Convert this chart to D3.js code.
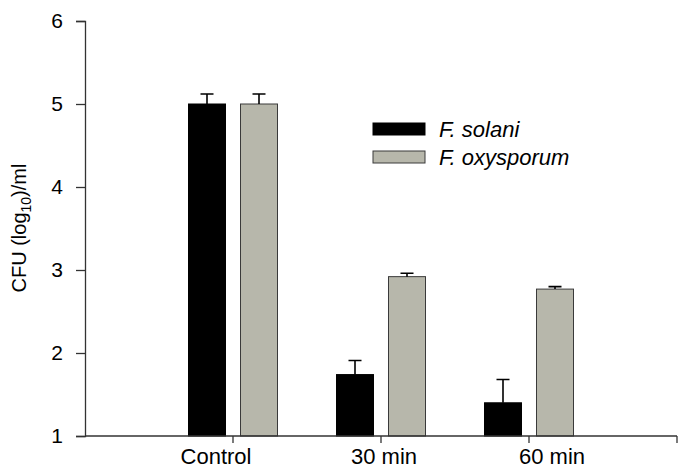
<!DOCTYPE html>
<html>
<head>
<meta charset="utf-8">
<script src="https://cdn.jsdelivr.net/npm/d3@7"></script>
<style>
  html, body { margin: 0; padding: 0; background: #fff; }
  svg { display: block; font-family: "Liberation Sans", Arial, sans-serif; }
</style>
</head>
<body>
<svg id="chart" width="685" height="474"></svg>
<script>
// ---- data ----
const categories = ["Control", "30 min", "60 min"];
const seriesNames = ["F. solani", "F. oxysporum"];
const solaniValues = [5.0, 1.74, 1.40];
const solaniErrors = [0.12, 0.17, 0.28];
const oxysporumValues = [5.0, 2.92, 2.77];
const oxysporumErrors = [0.12, 0.04, 0.03];
const yTicks = [1, 2, 3, 4, 5, 6];
const seriesColors = ["#000000", "#b7b7ab"];
const seriesStrokes = ["#000000", "#3a3a3a"];

const rows = categories.map((c, i) => ({
  cat: c,
  vals: [
    { s: 0, v: solaniValues[i], e: solaniErrors[i] },
    { s: 1, v: oxysporumValues[i], e: oxysporumErrors[i] }
  ]
}));

const svg = d3.select("#chart");
const axisX0 = 85, axisX1 = 677, y0 = 436, y1 = 21;
const step = (axisX1 - axisX0) / 4;

const y = d3.scaleLinear().domain([1, 6]).range([y0, y1]);
const x = d3.scaleBand().domain(categories)
  .range([axisX0 + step / 2, axisX1 - step / 2]).paddingInner(0).paddingOuter(0);
const xs = d3.scaleBand().domain([0, 1]).range([-44.5, 44.5]).paddingInner(15 / 52);
// category labels in the original are spaced independently of the ticks
const xLabel = d3.scalePoint().domain(categories).range([216, 552]);

const axisColor = "#333";

// bars
const g = svg.append("g");
const groups = g.selectAll("g.cat").data(rows).join("g")
  .attr("transform", d => `translate(${x(d.cat) + x.bandwidth() / 2},0)`);

groups.selectAll("rect").data(d => d.vals).join("rect")
  .attr("x", d => xs(d.s))
  .attr("width", xs.bandwidth())
  .attr("y", d => y(d.v))
  .attr("height", d => y0 - y(d.v))
  .attr("fill", d => seriesColors[d.s])
  .attr("stroke", d => seriesStrokes[d.s])
  .attr("stroke-width", 1);

// error bars (upper only)
groups.selectAll("path.err").data(d => d.vals).join("path")
  .attr("class", "err")
  .attr("d", d => {
    const cx = xs(d.s) + xs.bandwidth() / 2;
    const top = y(d.v + d.e);
    return `M${cx},${y(d.v)}V${top}M${cx - 6.5},${top}H${cx + 6.5}`;
  })
  .attr("fill", "none").attr("stroke", "#000").attr("stroke-width", 1.6);

// y axis
const yAxis = d3.axisLeft(y).tickValues(yTicks).tickFormat(d3.format("d")).tickSizeOuter(0).tickSize(9).tickPadding(13);
const ya = svg.append("g").attr("transform", `translate(${axisX0},0)`).call(yAxis);
ya.select(".domain").attr("stroke", axisColor).attr("stroke-width", 1.3);
ya.selectAll(".tick line").attr("stroke", axisColor).attr("stroke-width", 1.3);
ya.selectAll(".tick text").attr("font-size", 21).attr("fill", "#000")
  .attr("font-family", "Liberation Sans, Arial, sans-serif");

// x axis
const xa = svg.append("g").attr("transform", `translate(0,${y0})`);
xa.append("line").attr("x1", axisX0).attr("x2", axisX1).attr("y1", 0).attr("y2", 0)
  .attr("stroke", axisColor).attr("stroke-width", 1.3);
const xTickPos = categories.map(c => x(c) + x.bandwidth() / 2).concat([axisX1]);
xa.selectAll("line.tk").data(xTickPos).join("line").attr("class", "tk")
  .attr("x1", d => d).attr("x2", d => d).attr("y1", 0).attr("y2", 7)
  .attr("stroke", axisColor).attr("stroke-width", 1.3);
xa.selectAll("text").data(categories).join("text")
  .attr("x", d => xLabel(d))
  .attr("y", 28)
  .attr("text-anchor", "middle")
  .attr("font-size", 22)
  .attr("fill", "#000")
  .text(d => d);

// y label
const yl = svg.append("text")
  .attr("transform", "translate(26,228) rotate(-90)")
  .attr("text-anchor", "middle")
  .attr("font-size", 20)
  .attr("fill", "#000");
yl.append("tspan").text("CFU (log");
yl.append("tspan").attr("font-size", 14).attr("dy", 5).text("10");
yl.append("tspan").attr("dy", -5).text(")/ml");

// legend
const lg = svg.append("g").attr("transform", "translate(373,123)");
const li = lg.selectAll("g").data(seriesNames).join("g")
  .attr("transform", (d, i) => `translate(0,${i * 28})`);
li.append("rect").attr("width", 52).attr("height", 12)
  .attr("fill", (d, i) => seriesColors[i])
  .attr("stroke", (d, i) => seriesStrokes[i]).attr("stroke-width", 1);
li.append("text").attr("x", 66).attr("y", 14)
  .attr("font-size", 22).attr("font-style", "italic").attr("fill", "#000")
  .text(d => d);
</script>
</body>
</html>
